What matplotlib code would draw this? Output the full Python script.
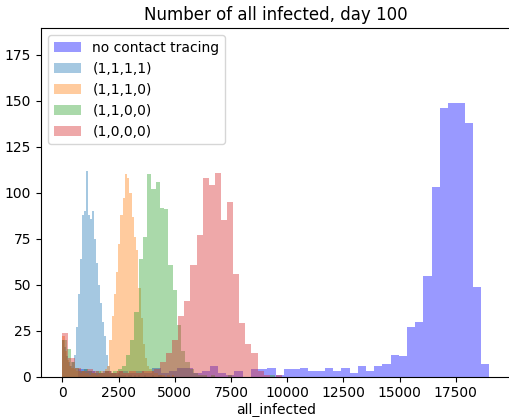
import numpy as np
import matplotlib
matplotlib.use("Agg")
import matplotlib.pyplot as plt

# ---- data: histogram counts (50 bins each) and bin ranges ----
labels = ["no contact tracing", "(1,1,1,1)", "(1,1,1,0)", "(1,1,0,0)", "(1,0,0,0)"]

range_none = (715, 18985)
counts_none = [4, 3, 2, 3, 2, 3, 2, 3, 2, 5, 2, 3, 5, 5, 2,
               3, 6, 2, 1, 3, 0, 4, 4, 5,
               1, 4, 4, 5, 3, 3, 5, 3, 5, 2, 6, 3, 6, 7,
               12, 11, 27, 30, 55, 103, 146, 149, 149, 138, 49, 7]

range_1111 = (0, 4450)
counts_1111 = [20, 16, 11, 8, 6, 8, 12, 27, 45, 64, 88, 90, 112, 88, 86, 90, 75, 62,
               50, 40, 30, 22, 12, 6, 3,
               2, 2, 1, 2, 1, 1, 1, 0, 1, 1, 0, 1, 0, 1, 0, 0, 1, 0, 0, 0, 1, 0, 0, 1, 1]

range_1110 = (0, 4970)
counts_1110 = [22, 14, 9, 6, 5, 4, 3, 3, 2, 3, 2, 2, 1, 2, 2, 1, 2, 3, 3, 4, 6,
               20, 33, 45, 57, 72, 88, 97, 110, 108, 100, 87, 76, 69, 48, 32, 18, 10, 6,
               4, 3, 2, 2, 1, 1, 1, 0, 1, 0, 1]

range_1100 = (0, 9440)
counts_1100 = [20, 15, 8, 5, 3, 4, 3, 2, 3, 2, 3, 2, 3, 4, 6, 12, 20, 35, 64, 76,
               110, 102, 106, 92, 91, 61, 47, 28, 14, 8, 4, 2, 1, 1,
               0, 1, 0, 0, 0, 1, 0, 0, 0, 0, 0, 0, 0, 0, 0, 1]

range_1000 = (0, 13570)
counts_1000 = [24, 10, 5, 3, 4, 3, 2, 3, 2, 3, 2, 3, 2, 3, 3, 4, 8, 13, 20, 33,
               41, 61, 77, 108, 104, 111, 85, 95, 56, 29, 18, 13, 3,
               1, 0, 1, 0, 0, 0, 0, 0, 0, 0, 0, 0, 0, 0, 0, 0, 0]

title = "Number of all infected, day 100"
xlabel = "all_infected"

series = [
    (range_none, counts_none, "blue"),
    (range_1111, counts_1111, "tab:blue"),
    (range_1110, counts_1110, "tab:orange"),
    (range_1100, counts_1100, "tab:green"),
    (range_1000, counts_1000, "tab:red"),
]

fig = plt.figure(figsize=(5.10, 4.17), dpi=100)
ax = fig.add_axes([41 / 510, 40.3 / 417, 469.5 / 510, 348.4 / 417])

for (rng, cnt, col), lab in zip(series, labels):
    edges = np.linspace(rng[0], rng[1], len(cnt) + 1)
    centers = 0.5 * (edges[:-1] + edges[1:])
    ax.hist(centers, bins=edges, weights=cnt, color=col, alpha=0.4, label=lab)

ax.set_ylim(0, 189.5)
ax.set_xticks([0, 2500, 5000, 7500, 10000, 12500, 15000, 17500])
ax.set_yticks([0, 25, 50, 75, 100, 125, 150, 175])
ax.set_title(title, fontsize=12)
ax.set_xlabel(xlabel, fontsize=10, labelpad=2)
ax.tick_params(labelsize=10)
ax.legend(loc="upper left", fontsize=10)

fig.savefig("out.png", dpi=100)
